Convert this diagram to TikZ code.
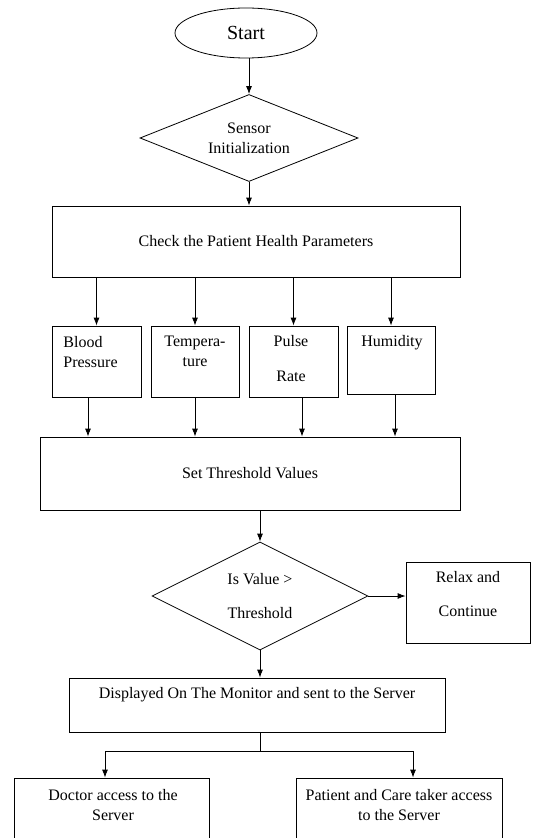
\documentclass[tikz,border=0pt]{standalone}
\usepackage{fontspec}
\setmainfont{Liberation Serif}
\usetikzlibrary{shapes.geometric,arrows.meta}

\tikzset{
  box/.style={draw, rectangle, inner sep=0pt},
  decision/.style={draw, diamond, inner sep=0pt, aspect=2.5, align=center},
  startstop/.style={draw, ellipse, inner sep=0pt},
  txt/.style={inner sep=0pt, align=center},
}

\begin{document}
\begin{tikzpicture}[x=0.75pt,y=-0.75pt,>={Latex[length=6pt,width=4.5pt]},line width=0.6pt,
  font=\fontsize{12}{15}\selectfont]%,cap=round]
\useasboundingbox (0,0) rectangle (534,838);
\clip (0,0) rectangle (534,838);

% top part
\node[startstop, minimum width=106.5pt, minimum height=37.5pt,
  font=\fontsize{15}{18}\selectfont] (start) at (246,33) {Start};
\node[decision, minimum width=163.5pt, minimum height=65.25pt] (sensor) at (249,138)
  {Sensor\\Initialization};
\node[box, minimum width=306pt, minimum height=53.25pt] (check) at (256,241.5)
  {Check the Patient Health Parameters};

% parameters
\node[box, minimum width=66.75pt, minimum height=53.25pt] (blood) at (96.5,361.5) {};
\node[txt, anchor=north west, align=left] (bloodT) at (63,336) {Blood\\Pressure};
\node[box, minimum width=66pt, minimum height=53.25pt] (temp) at (195,361.5) {};
\node[txt, anchor=north] (tempT) at (195,336) {Tempera-\\ture};
\node[box, minimum width=66.75pt, minimum height=53.25pt] (pulse) at (293.5,361.5) {};
\node[txt, anchor=north] (pulseT) at (291,335) {Pulse\\[11pt]Rate};
\node[box, minimum width=66pt, minimum height=51pt] (humid) at (391,360) {};
\node[txt, anchor=north] (humidT) at (392,335) {Humidity};

\node[box, minimum width=315pt, minimum height=54.75pt] (thresh) at (250,473.5)
  {Set Threshold Values};

% decision
\node[decision, aspect=2, minimum width=162pt, minimum height=81pt] (isval) at (260,596)
  {Is Value >\\[10pt]Threshold};
\node[box, minimum width=93pt, minimum height=60.75pt] (relax) at (468,602.5) {};
\node[txt] (relaxT) at (468,594) {Relax and\\[10pt]Continue};

\node[box, minimum width=282pt, minimum height=40.5pt] (display) at (257,705) {};
\node[txt, anchor=north] (displayT) at (257,687)
  {Displayed On The Monitor and sent to the Server};

% access
\node[box, minimum width=146.25pt, minimum height=63pt] (doctor) at (111.5,820) {};
\node[txt, anchor=north] (doctorT) at (113,789) {Doctor access to the\\Server};
\node[box, minimum width=154.5pt, minimum height=63pt] (patient) at (399,820) {};
\node[txt, anchor=north] (patientT) at (399,789) {Patient and Care taker access\\to the Server};

\coordinate (split) at (260,751);
\coordinate (dleft) at (105,751);
\coordinate (pright) at (413,751);

\draw[->] (sensor.north |- start.south) -- (sensor.north);
\draw[->] (sensor.south) -- (sensor.south |- check.north);
\foreach \p/\s in {blood/-8.5,temp/0,pulse/8.5,humid/4}{
  \draw[->] (\p.north |- check.south) -- (\p.north);
  \draw[->] ([xshift=\s*0.75pt]\p.south) -- ([xshift=\s*0.75pt]\p.south |- thresh.north);
}
\draw[->] (isval.north |- thresh.south) -- (isval.north);
\draw[->] (isval.east) -- (isval.east -| relax.west);
\draw[->] (isval.south) -- (isval.south |- display.north);
\draw (isval.south |- display.south) -- (split);
\draw (dleft) -- (pright);
\draw[->] (dleft) -- (dleft |- doctor.north);
\draw[->] (pright) -- (pright |- patient.north);

\end{tikzpicture}
\end{document}
